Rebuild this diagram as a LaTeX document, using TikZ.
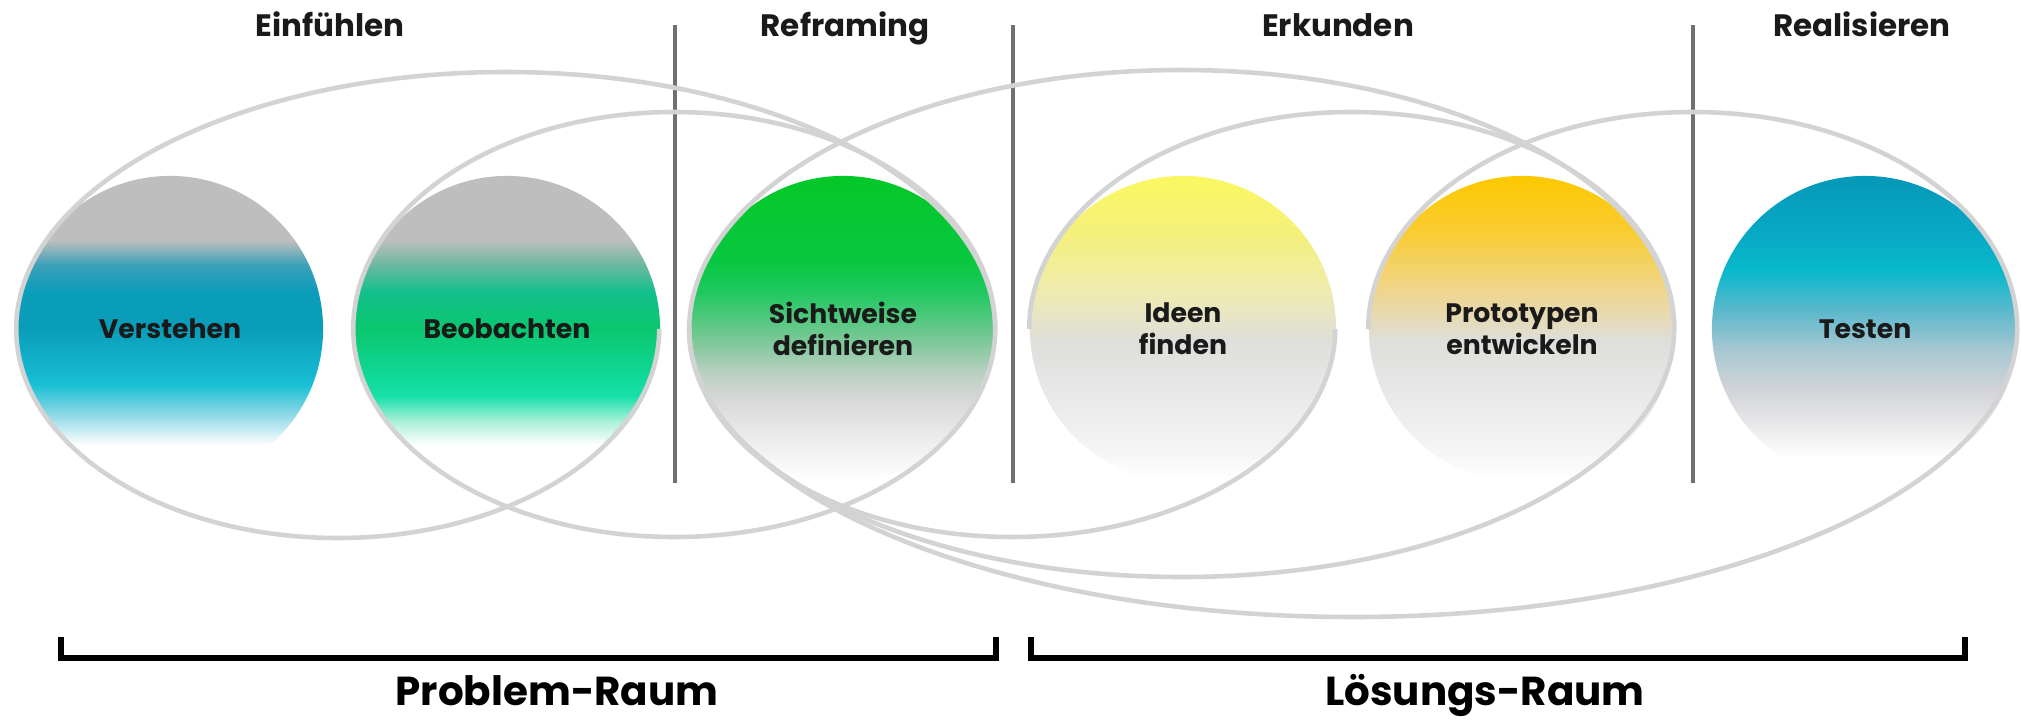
\documentclass[tikz,border=0pt]{standalone}
\usepackage{fontspec}
\setmainfont{Poppins}
\usepackage{xcolor}

\definecolor{ringgray}{HTML}{D3D3D3}
\definecolor{sepgray}{HTML}{707070}
\definecolor{labelink}{HTML}{1A1A1A}
\definecolor{topgray}{HTML}{BEBEBE}
\definecolor{vsA}{HTML}{8FD8E6}
\definecolor{vsB}{HTML}{18BFD4}
\definecolor{vsC}{HTML}{14B4CC}
\definecolor{vsD}{HTML}{0A9DBA}
\definecolor{vsE}{HTML}{3DA0B8}
\definecolor{bbA}{HTML}{A8F0D8}
\definecolor{bbB}{HTML}{18E0AA}
\definecolor{bbC}{HTML}{10D898}
\definecolor{bbD}{HTML}{0BC76E}
\definecolor{bbE}{HTML}{12C08C}
\definecolor{bbF}{HTML}{6CB8A0}
\definecolor{swA}{HTML}{F6F6F6}
\definecolor{swB}{HTML}{E8E8E8}
\definecolor{swC}{HTML}{D8D8D8}
\definecolor{swD}{HTML}{B8D0C0}
\definecolor{swE}{HTML}{7DC898}
\definecolor{swF}{HTML}{20C860}
\definecolor{swG}{HTML}{08C840}
\definecolor{swH}{HTML}{04C828}
\definecolor{paleA}{HTML}{F2F2F2}
\definecolor{paleB}{HTML}{E6E6E6}
\definecolor{paleC}{HTML}{DEDEDA}
\definecolor{idA}{HTML}{EEEBB0}
\definecolor{idB}{HTML}{F5F07A}
\definecolor{idC}{HTML}{FAF860}
\definecolor{prA}{HTML}{EED690}
\definecolor{prB}{HTML}{F9CC30}
\definecolor{prC}{HTML}{FCC800}
\definecolor{teA}{HTML}{E6E6E8}
\definecolor{teB}{HTML}{D2D4D8}
\definecolor{teC}{HTML}{A8C8D2}
\definecolor{teD}{HTML}{5CB8CC}
\definecolor{teE}{HTML}{08B8CC}
\definecolor{teF}{HTML}{08A8C4}
\definecolor{teG}{HTML}{0698B8}

\pgfdeclareverticalshading{verstehenshade}{100bp}{color(0bp)=(white); color(31bp)=(white);
  color(36bp)=(vsA); color(41bp)=(vsB); color(44bp)=(vsC); color(50bp)=(vsD); color(56bp)=(vsD);
  color(60.5bp)=(vsE); color(64.5bp)=(topgray); color(100bp)=(topgray)}
\pgfdeclareverticalshading{beobachtenshade}{100bp}{color(0bp)=(white); color(31bp)=(white);
  color(35bp)=(bbA); color(39bp)=(bbB); color(42.5bp)=(bbC); color(50bp)=(bbD); color(56bp)=(bbE);
  color(60.5bp)=(bbF); color(64.5bp)=(topgray); color(100bp)=(topgray)}
\pgfdeclareverticalshading{sichtweiseshade}{100bp}{color(0bp)=(white); color(25bp)=(white);
  color(28.5bp)=(swA); color(33.5bp)=(swB); color(38.5bp)=(swC); color(43bp)=(swD); color(48bp)=(swE);
  color(56bp)=(swF); color(61bp)=(swG); color(75bp)=(swH); color(100bp)=(swH)}
\pgfdeclareverticalshading{ideenshade}{100bp}{color(0bp)=(white); color(25bp)=(white);
  color(32bp)=(paleA); color(41.5bp)=(paleB); color(48bp)=(paleC); color(56bp)=(idA);
  color(66bp)=(idB); color(75bp)=(idC); color(100bp)=(idC)}
\pgfdeclareverticalshading{prototypenshade}{100bp}{color(0bp)=(white); color(25bp)=(white);
  color(32bp)=(paleA); color(41.5bp)=(paleB); color(48bp)=(paleC); color(56bp)=(prA);
  color(66bp)=(prB); color(75bp)=(prC); color(100bp)=(prC)}
\pgfdeclareverticalshading{testenshade}{100bp}{color(0bp)=(white); color(29bp)=(white);
  color(35bp)=(teA); color(40bp)=(teB); color(46.5bp)=(teC); color(53bp)=(teD); color(59.5bp)=(teE);
  color(66bp)=(teF); color(75bp)=(teG); color(100bp)=(teG)}

\begin{document}
\begin{tikzpicture}[x=0.01cm,y=0.01cm,
    phase/.style={circle,minimum size=3.06cm,inner sep=0pt,align=center,
      text=labelink,font=\fontsize{7.6}{9.2}\selectfont\bfseries},
    stage/.style={anchor=base,text=labelink,font=\fontsize{8.8}{10}\selectfont\bfseries},
    space/.style={anchor=base,text=black,font=\fontsize{11.5}{14}\selectfont\bfseries},
    ring/.style={draw=ringgray,line width=1.3pt},
    divider/.style={draw=sepgray,line width=1pt},
    brace/.style={draw=black,line width=1.5pt}]
\useasboundingbox[fill=white] (0,0) rectangle (2021,-721);

% stages
\node[stage](einfuehlen) at (330,-37) {Einfühlen};
\node[stage](reframing) at (845,-37) {Reframing};
\node[stage](erkunden) at (1338,-37) {Erkunden};
\node[stage](realisieren) at (1862,-37) {Realisieren};

\draw[divider] (675,-25) -- (675,-483);
\draw[divider] (1013,-25) -- (1013,-483);
\draw[divider] (1693,-25) -- (1693,-483);

% phases
\node[phase,shading=verstehenshade](verstehen) at (170,-329) {Verstehen};
\node[phase,shading=beobachtenshade](beobachten) at (507,-329) {Beobachten};
\node[phase,shading=sichtweiseshade](sichtweise) at (843,-329) {Sichtweise\\definieren};
\node[phase,shading=ideenshade](ideen) at (1183,-329) {Ideen\\finden};
\node[phase,shading=prototypenshade](prototypen) at (1522,-329) {Prototypen\\entwickeln};
\node[phase,shading=testenshade](testen) at (1865,-329) {Testen};

% rings, upper halves
\draw[ring] (verstehen.west) arc[start angle=180,end angle=0,x radius=489.5,y radius=257];
\draw[ring] (beobachten.west) arc[start angle=180,end angle=0,x radius=321,y radius=217];
\draw[ring] (sichtweise.west) arc[start angle=180,end angle=0,x radius=492.5,y radius=259];
\draw[ring] (ideen.west) arc[start angle=180,end angle=0,x radius=322.5,y radius=217];
\draw[ring] (prototypen.west) arc[start angle=180,end angle=0,x radius=324.5,y radius=217];
% rings, lower halves
\draw[ring] (verstehen.west) arc[start angle=180,end angle=360,x radius=321.5,y radius=209];
\draw[ring] (beobachten.west) arc[start angle=180,end angle=360,x radius=321,y radius=208];
\draw[ring] (sichtweise.west) arc[start angle=180,end angle=360,x radius=323,y radius=208];
\draw[ring] (sichtweise.west) arc[start angle=180,end angle=360,x radius=492.5,y radius=248];
\draw[ring] (sichtweise.west) arc[start angle=180,end angle=360,x radius=664,y radius=288];

% spaces
\draw[brace] (61,-637) -- (61,-658) -- (996,-658) -- (996,-637);
\draw[brace] (1031,-637) -- (1031,-658) -- (1965,-658) -- (1965,-637);
\node[space](problem) at (557,-705) {Problem-Raum};
\node[space](loesung) at (1485,-705) {Lösungs-Raum};
\end{tikzpicture}
\end{document}
